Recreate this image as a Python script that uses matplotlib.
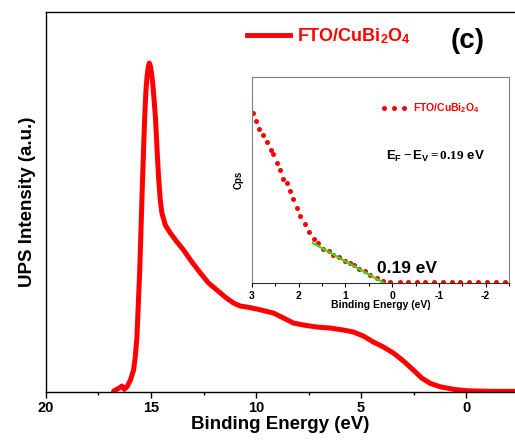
import matplotlib
matplotlib.use("Agg")
import matplotlib.pyplot as plt
from matplotlib.lines import Line2D
from matplotlib.ticker import MultipleLocator

plt.rcParams["font.family"] = ["Liberation Sans", "DejaVu Sans"]
plt.rcParams["font.weight"] = "bold"
plt.rcParams["axes.unicode_minus"] = False
plt.rcParams["mathtext.fontset"] = "custom"
plt.rcParams["mathtext.rm"] = "Liberation Serif"
plt.rcParams["mathtext.it"] = "Liberation Serif:italic"
plt.rcParams["mathtext.bf"] = "Liberation Sans:bold"

RED = "#ff0000"
GREEN = "#33dd22"

# main UPS spectrum (binding energy in eV, intensity a.u.)
main_energy = [16.78, 16.54, 16.38, 16.27, 16.14, 15.98, 15.83, 15.75, 15.67, 15.60,
               15.54, 15.48, 15.43, 15.35, 15.30, 15.24, 15.19, 15.13, 15.08, 15.02,
               14.95, 14.89, 14.79, 14.71, 14.64, 14.56, 14.48, 14.32, 14.08, 13.76,
               13.45, 13.05, 12.65, 12.26, 11.86, 11.47, 11.07, 10.75, 10.43, 9.96,
               9.56, 9.17, 8.69, 8.22, 7.74, 7.10, 6.47, 5.84, 5.36, 4.89,
               4.41, 3.93, 3.46, 2.98, 2.51, 2.11, 1.71, 1.24, 0.60, -0.03,
               -1.14, -2.33]
main_intensity = [1, 3.7, 6, 2.7, 5.3, 12, 22, 35, 55, 90,
                  120, 160, 195, 245, 275, 302, 315, 325, 329, 325,
                  315, 302, 275, 242, 215, 192, 179, 167, 159, 150,
                  142, 130, 119, 109, 102, 95, 89, 86, 85, 83,
                  81, 79, 74, 69, 67, 65, 64, 62, 60, 56,
                  50, 45, 39, 31, 22, 14, 8.7, 5.3, 2.7, 1.3,
                  0.7, 0.7]

# inset: valence band edge
inset_energy = [2.98, 2.91, 2.84, 2.76, 2.67, 2.60, 2.54, 2.47, 2.40, 2.34,
                2.25, 2.18, 2.13, 2.03, 1.97, 1.86, 1.78, 1.68, 1.58, 1.47,
                1.36, 1.26, 1.13, 1.00, 0.90, 0.81, 0.70, 0.58, 0.47, 0.33,
                0.20, 0.04, -0.16, -0.34, -0.53, -0.71, -0.90, -1.08, -1.28, -1.46,
                -1.65, -1.83, -2.03, -2.22, -2.42]
inset_cps = [170, 162, 154, 148, 141, 133, 129, 120, 113, 104,
             100, 92, 84, 75, 67, 59, 51, 44, 40, 34,
             32, 28, 26, 22, 20, 18, 14, 12, 8.3, 5,
             2.3, 1.5, 1.3, 1.3, 1.2, 1.2, 1.0, 1.0, 1.0, 1.0,
             1.0, 1.0, 0.8, 0.8, 0.8]

fit_energy = [1.70, 0.19]
fit_cps = [40, 0.5]

fig = plt.figure(figsize=(5.15, 4.4), dpi=100)
ax = fig.add_axes([0.0893, 0.109, 0.9107, 0.8636])
ax.plot(main_energy, main_intensity, color=RED, linewidth=3.6,
        solid_capstyle="round", solid_joinstyle="round")
ax.set_xlim(20, -2.33)
ax.set_ylim(0, 380)
ax.set_yticks([])
ax.xaxis.set_major_locator(MultipleLocator(5))
ax.xaxis.set_minor_locator(MultipleLocator(2.5))
ax.tick_params(axis="x", which="major", length=4.5, width=1, labelsize=10.5, pad=2)
ax.tick_params(axis="x", which="minor", length=2.5, width=1)
ax.spines["right"].set_visible(False)
for s in ["left", "top", "bottom"]:
    ax.spines[s].set_linewidth(1)
ax.set_xlabel("Binding Energy (eV)", fontsize=13.5, fontweight="bold", labelpad=1)
ax.set_ylabel("UPS Intensity (a.u.)", fontsize=13.5, fontweight="bold", labelpad=7)

h = Line2D([0], [0], color=RED, linewidth=3.5)
ax.legend([h], [r"FTO/CuBi$_\mathbf{2}$O$_\mathbf{4}$"], loc="center left",
          bbox_to_anchor=(0.4286, 0.937), frameon=False, borderpad=0, borderaxespad=0,
          handlelength=2.4, handletextpad=0.35,
          prop={"size": 13, "weight": "bold"}, labelcolor=RED)
ax.text(0.9, 0.925, "(c)", transform=ax.transAxes, fontsize=20, fontweight="bold",
        ha="center", va="center")

# inset
axin = fig.add_axes([0.4893, 0.3568, 0.4990, 0.4682])
axin.plot(inset_energy, inset_cps, linestyle="none", marker="o", markersize=3.6,
          color=RED, markeredgewidth=0, label=r"FTO/CuBi$_\mathbf{2}$O$_\mathbf{4}$")
axin.plot(fit_energy, fit_cps, color=GREEN, linewidth=1.6)
axin.set_xlim(3, -2.5)
axin.set_ylim(0, 206)
axin.set_yticks([])
axin.xaxis.set_major_locator(MultipleLocator(1))
axin.xaxis.set_minor_locator(MultipleLocator(0.5))
axin.tick_params(axis="x", which="major", length=3, width=0.8, labelsize=7.5, pad=2.5)
axin.tick_params(axis="x", which="minor", length=2, width=0.8)
for s in axin.spines.values():
    s.set_color("#808080")
    s.set_linewidth(0.8)
axin.spines["bottom"].set_color("#333333")
axin.set_xlabel("Binding Energy (eV)", fontsize=7.5, fontweight="bold", labelpad=-0.5)
axin.set_ylabel("Cps", fontsize=7, fontweight="bold", labelpad=6)
axin.legend(loc="center left", bbox_to_anchor=(0.5, 0.848), frameon=False,
            numpoints=3, borderpad=0, borderaxespad=0, handlelength=2.6,
            handletextpad=0.5, prop={"size": 7.5, "weight": "bold"}, labelcolor=RED)
axin.text(-0.92, 127, r"$\mathbf{E_F} - \mathbf{E_V} = \mathrm{0.19}$ eV", fontsize=9.5,
          fontweight="bold", ha="center", va="center")
axin.text(-0.32, 15, "0.19 eV", fontsize=12.5, fontweight="bold", ha="center", va="center")

fig.savefig("out.png", dpi=100)
